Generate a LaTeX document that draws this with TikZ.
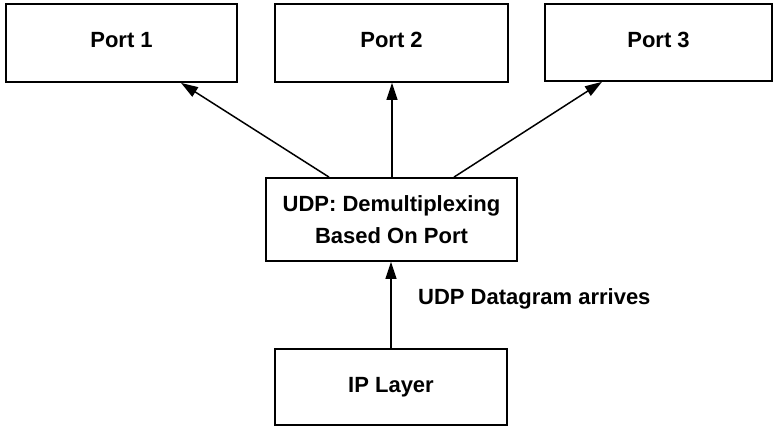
\documentclass[tikz,border=0pt]{standalone}
\usepackage{fontspec}
\setmainfont{Liberation Sans}
\usetikzlibrary{arrows.meta}
\begin{document}
\begin{tikzpicture}[x=1pt,y=1pt,
  boxnode/.style={draw, line width=1.8pt, inner sep=0pt, align=center,
    font=\fontsize{22}{32}\selectfont\bfseries},
  arr/.style={line width=1.5pt, -{Triangle[length=17pt,width=11pt]}},
  lbl/.style={font=\fontsize{22}{26}\selectfont\bfseries, inner sep=0pt}]
\useasboundingbox (0,0) rectangle (774,428);
\node[boxnode, minimum width=231pt, minimum height=78pt] (port1) at (121.5,385) {\raisebox{6pt}{Port 1}};
\node[boxnode, minimum width=233pt, minimum height=78pt] (port2) at (391.5,385) {\raisebox{6pt}{Port 2}};
\node[boxnode, minimum width=227pt, minimum height=77pt] (port3) at (658.5,385.5) {\raisebox{6pt}{Port 3}};
\node[boxnode, minimum width=251pt, minimum height=83pt] (udp) at (391.5,208.5) {\raisebox{0pt}{UDP: Demultiplexing}\\Based On Port};
\node[boxnode, minimum width=232pt, minimum height=76pt] (ip) at (391,41) {IP Layer};
\node[lbl, anchor=base west] (arrives) at (418,123) {UDP Datagram arrives};
\draw[arr] ([xshift=-62.5pt]udp.north) -- ([xshift=59.5pt]port1.south);
\draw[arr] ([xshift=0.5pt]udp.north) -- ([xshift=0.5pt]port2.south);
\draw[arr] ([xshift=62.5pt]udp.north) -- ([xshift=-56.5pt]port3.south);
\draw[arr] (ip.north) -- (ip.north |- udp.south);
\end{tikzpicture}
\end{document}
